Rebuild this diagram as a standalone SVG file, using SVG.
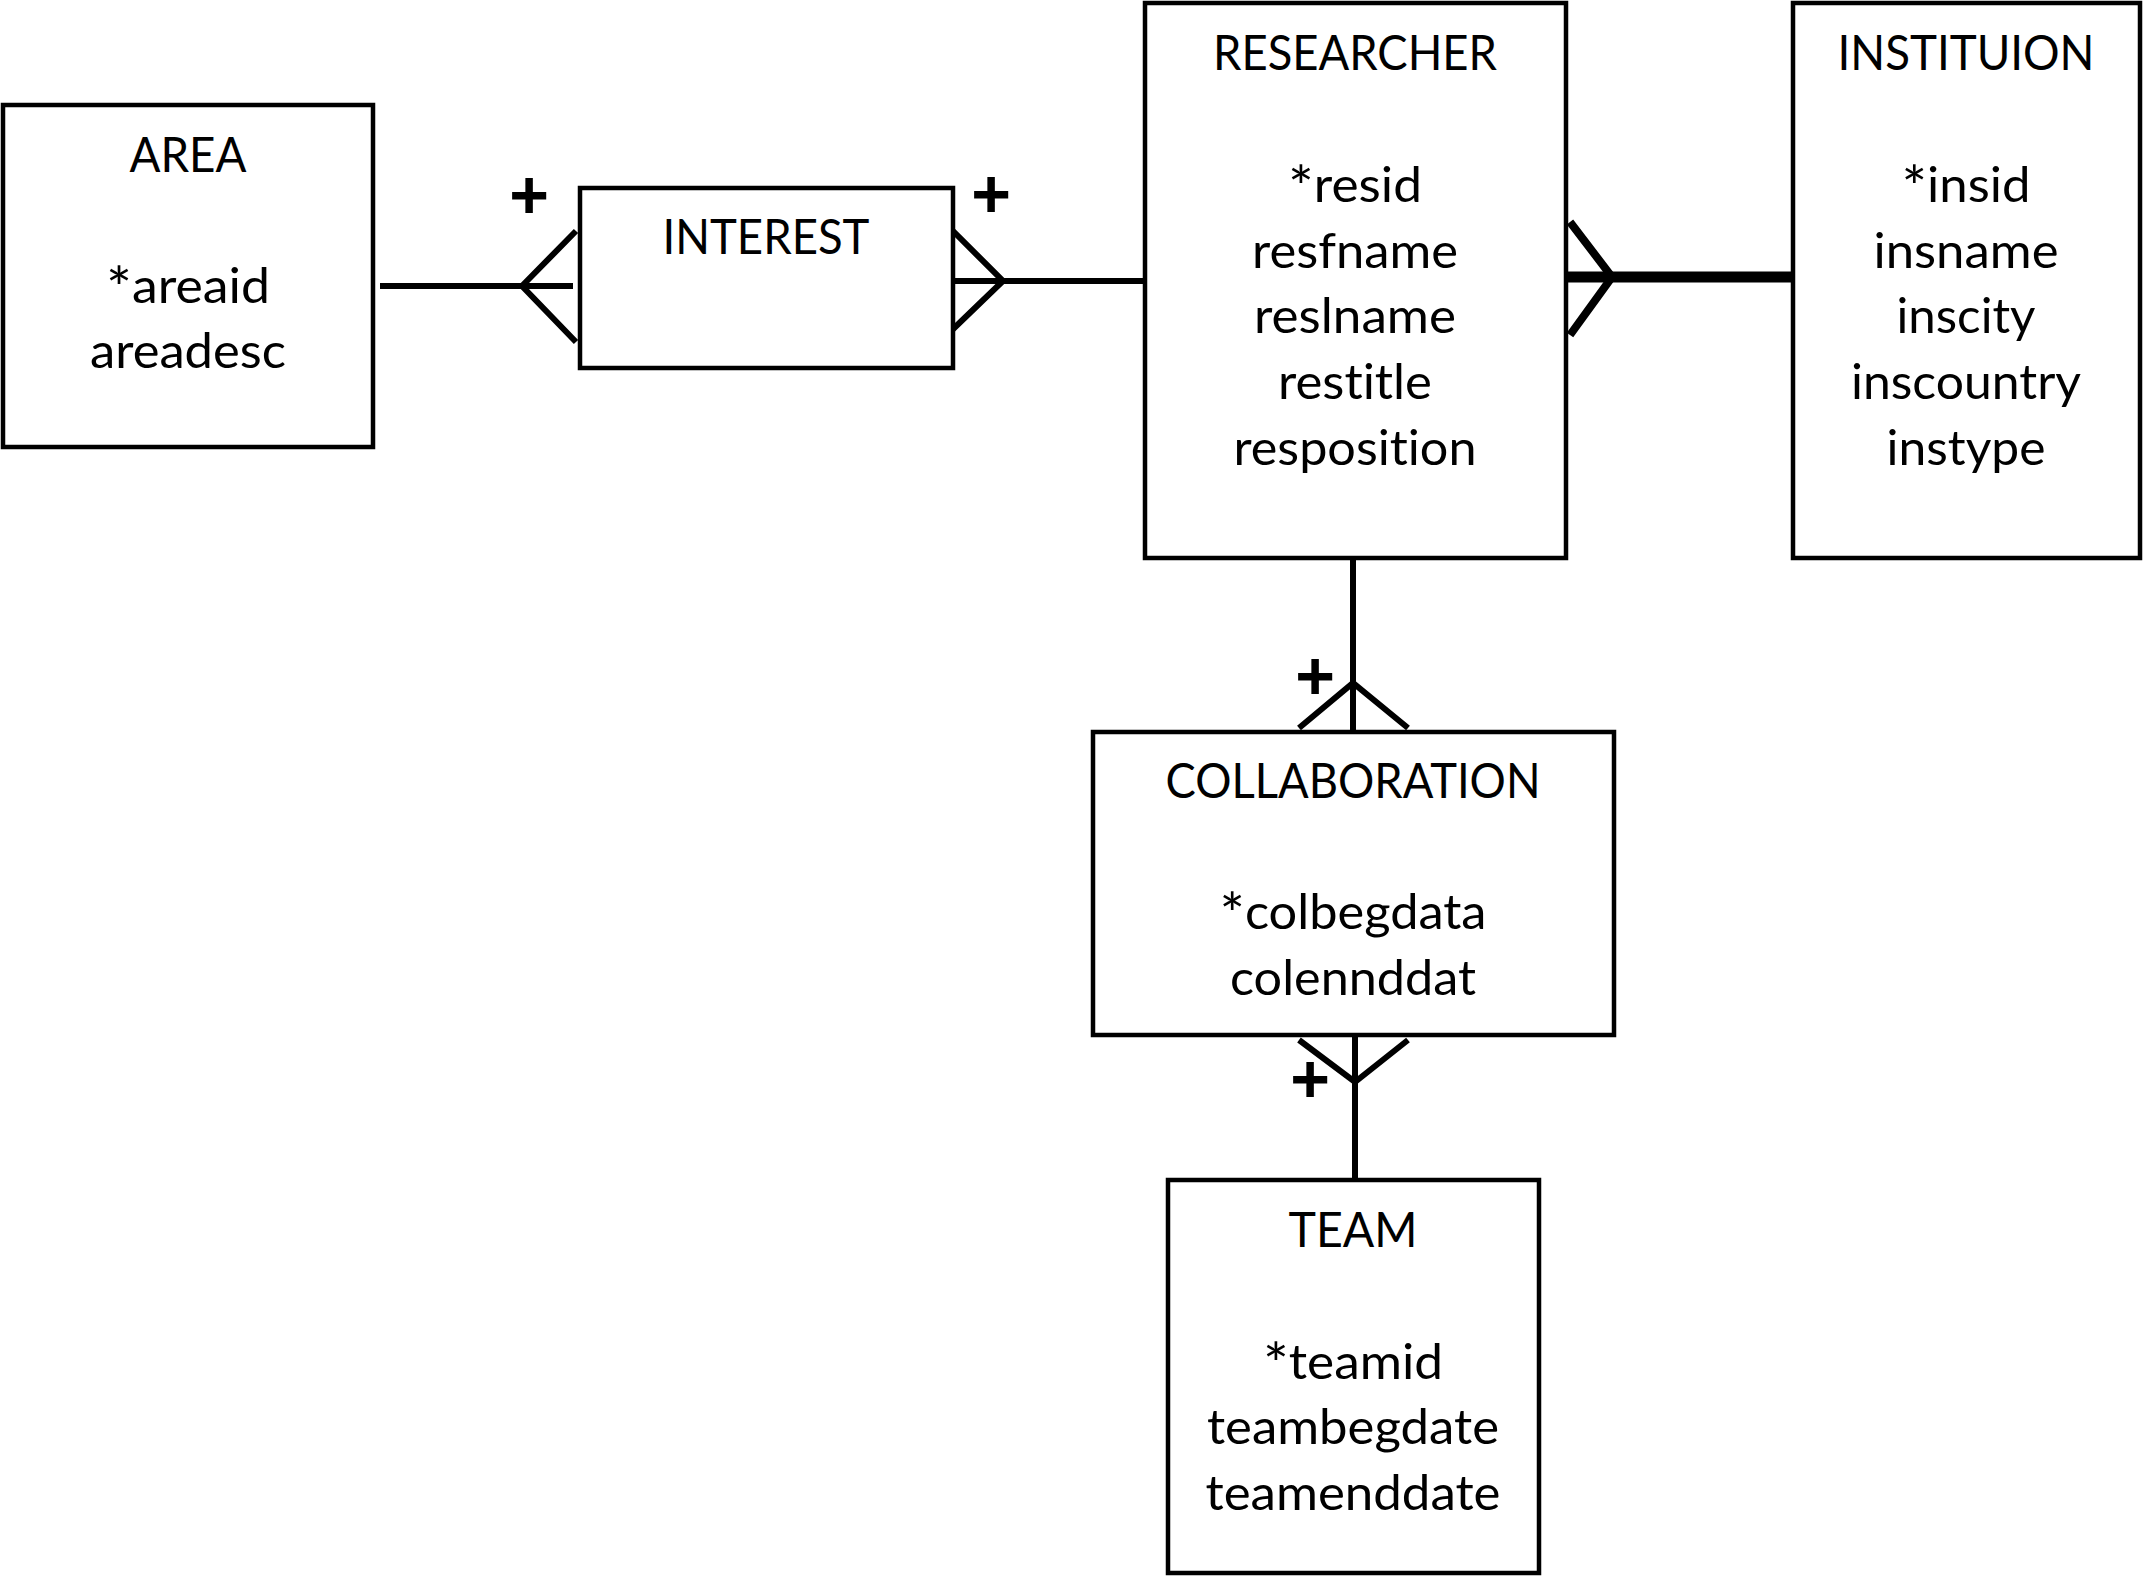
<svg xmlns="http://www.w3.org/2000/svg" width="2144" height="1576" viewBox="0 0 2144 1576">
<style>
.box{fill:#fff;stroke:#000;stroke-width:4.5}
.t{font-family:Lato,"Open Sans","Liberation Sans",sans-serif;font-size:49px;fill:#000;text-anchor:middle;font-variant-ligatures:none}
.a{font-size:58px;baseline-shift:-6px}
.c{fill:none;stroke:#000;stroke-width:6}
.ck{fill:none;stroke:#000;stroke-width:11}
.cf{fill:none;stroke:#000;stroke-width:8}
.p{font-family:"Liberation Sans",Arial,sans-serif;font-weight:bold;font-size:68px;fill:#000;text-anchor:middle}
</style>
<rect width="2144" height="1576" fill="#fff"/>
<g id="connectors">
<line class="c" x1="380" y1="286" x2="573" y2="286"/>
<polyline class="c" points="576,231 522,286 576,342"/>
<line class="c" x1="952" y1="281" x2="1145" y2="281"/>
<polyline class="c" points="949,227 1003,281 949,333"/>
<line class="ck" x1="1567" y1="277" x2="1793" y2="277"/>
<polyline class="cf" points="1570,222 1612,277 1570,335"/>
<line class="c" x1="1353" y1="558" x2="1353" y2="732"/>
<polyline class="c" points="1299,728 1353,683 1408,728"/>
<line class="c" x1="1355" y1="1035" x2="1355" y2="1180"/>
<polyline class="c" points="1299,1040 1355,1082 1408,1040"/>
<text class="p" x="529" y="218">+</text>
<text class="p" x="991" y="217">+</text>
<text class="p" x="1315" y="699">+</text>
<text class="p" x="1310" y="1102">+</text>
</g>
<g id="area">
<rect class="box" x="3" y="105" width="370" height="342"/>
<text class="t" x="188" y="172" textLength="117" lengthAdjust="spacingAndGlyphs">AREA</text>
<text class="t" x="188" y="303" textLength="164" lengthAdjust="spacingAndGlyphs"><tspan class="a">*</tspan>areaid</text>
<text class="t" x="188" y="368" textLength="196" lengthAdjust="spacingAndGlyphs">areadesc</text>
</g>
<g id="interest">
<rect class="box" x="580" y="188" width="373" height="180"/>
<text class="t" x="766" y="254" textLength="207" lengthAdjust="spacingAndGlyphs">INTEREST</text>
</g>
<g id="researcher">
<rect class="box" x="1145" y="3" width="421" height="555"/>
<text class="t" x="1355" y="70" textLength="284" lengthAdjust="spacingAndGlyphs">RESEARCHER</text>
<text class="t" x="1355" y="202" textLength="134" lengthAdjust="spacingAndGlyphs"><tspan class="a">*</tspan>resid</text>
<text class="t" x="1355" y="268" textLength="206" lengthAdjust="spacingAndGlyphs">resfname</text>
<text class="t" x="1355" y="333" textLength="202" lengthAdjust="spacingAndGlyphs">reslname</text>
<text class="t" x="1355" y="399" textLength="154" lengthAdjust="spacingAndGlyphs">restitle</text>
<text class="t" x="1355" y="465" textLength="243" lengthAdjust="spacingAndGlyphs">resposition</text>
</g>
<g id="institution">
<rect class="box" x="1793" y="3" width="347" height="555"/>
<text class="t" x="1966" y="70" textLength="257" lengthAdjust="spacingAndGlyphs">INSTITUION</text>
<text class="t" x="1966" y="202" textLength="129" lengthAdjust="spacingAndGlyphs"><tspan class="a">*</tspan>insid</text>
<text class="t" x="1966" y="268" textLength="185" lengthAdjust="spacingAndGlyphs">insname</text>
<text class="t" x="1966" y="333" textLength="139" lengthAdjust="spacingAndGlyphs">inscity</text>
<text class="t" x="1966" y="399" textLength="230" lengthAdjust="spacingAndGlyphs">inscountry</text>
<text class="t" x="1966" y="465" textLength="159" lengthAdjust="spacingAndGlyphs">instype</text>
</g>
<g id="collaboration">
<rect class="box" x="1093" y="732" width="521" height="303"/>
<text class="t" x="1353" y="798" textLength="375" lengthAdjust="spacingAndGlyphs">COLLABORATION</text>
<text class="t" x="1353" y="929" textLength="267" lengthAdjust="spacingAndGlyphs"><tspan class="a">*</tspan>colbegdata</text>
<text class="t" x="1353" y="995" textLength="246" lengthAdjust="spacingAndGlyphs">colennddat</text>
</g>
<g id="team">
<rect class="box" x="1168" y="1180" width="371" height="393"/>
<text class="t" x="1353" y="1247" textLength="129" lengthAdjust="spacingAndGlyphs">TEAM</text>
<text class="t" x="1353" y="1379" textLength="180" lengthAdjust="spacingAndGlyphs"><tspan class="a">*</tspan>teamid</text>
<text class="t" x="1353" y="1444" textLength="292" lengthAdjust="spacingAndGlyphs">teambegdate</text>
<text class="t" x="1353" y="1510" textLength="295" lengthAdjust="spacingAndGlyphs">teamenddate</text>
</g>
</svg>
